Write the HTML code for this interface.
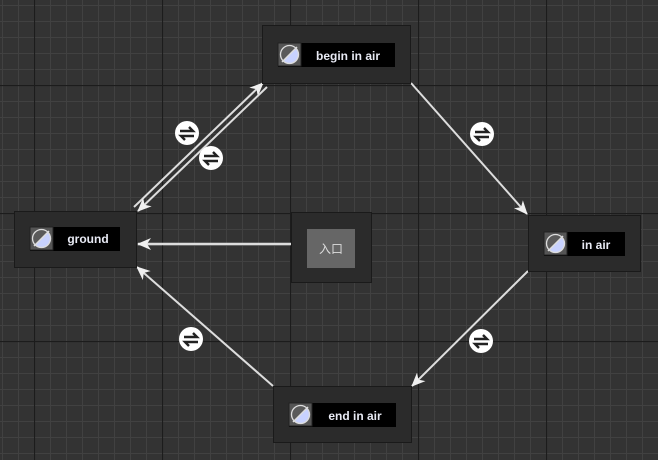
<!DOCTYPE html>
<html><head><meta charset="utf-8">
<style>
html,body{margin:0;padding:0;background:#333;}
svg{display:block}
text{font-family:"Liberation Sans","Noto Sans CJK SC",sans-serif;}
</style></head>
<body>
<svg width="658" height="460" viewBox="0 0 658 460" xmlns="http://www.w3.org/2000/svg">
<defs>
<pattern id="minor" x="2" y="5" width="16" height="16" patternUnits="userSpaceOnUse">
<path d="M0.5 0V16M0 0.5H16" stroke="#414141" stroke-width="1" fill="none"/>
</pattern>
<pattern id="major" x="34" y="85" width="128" height="128" patternUnits="userSpaceOnUse">
<path d="M0.5 0V128M0 0.5H128" stroke="#1c1c1c" stroke-width="1.2" fill="none"/>
</pattern>
<marker id="ar" markerWidth="14" markerHeight="12" refX="13" refY="6" orient="auto" markerUnits="userSpaceOnUse">
<path d="M0 0L14 6L0 12L4 6Z" fill="#f0f0f0"/>
</marker>
<g id="icon">
<rect x="0" y="0" width="23" height="23" fill="#555" stroke="#222"/>
<circle cx="11.5" cy="11.5" r="9" fill="#c8d2ff"/>
<path d="M2.5 11.5A9 9 0 0 1 17.9 5.1L5.1 17.9A9 9 0 0 1 2.5 11.5Z" fill="#5a5a5a"/>
<circle cx="11.5" cy="11.5" r="9" fill="none" stroke="#ddd" stroke-width="1.3"/>
<line x1="4" y1="19" x2="19" y2="4" stroke="#ddd" stroke-width="1.5"/>
</g>
<g id="badge">
<circle r="12" fill="#fff"/>
<path d="M-7 -2H6L2 -6" stroke="#222" stroke-width="2.4" fill="none"/>
<path d="M7 3H-6L-2 7" stroke="#222" stroke-width="2.4" fill="none"/>
</g>
</defs>
<rect width="658" height="460" fill="#333"/>
<rect width="658" height="460" fill="url(#minor)"/>
<rect width="658" height="460" fill="url(#major)"/>

<!-- connectors -->
<g stroke="#ddd" stroke-width="2" fill="none">
<line x1="134" y1="207" x2="263" y2="83" marker-end="url(#ar)"/>
<line x1="267" y1="87" x2="138" y2="211" marker-end="url(#ar)"/>
<line x1="411" y1="83" x2="527" y2="214" marker-end="url(#ar)"/>
<line x1="528" y1="271" x2="412" y2="386" marker-end="url(#ar)"/>
<line x1="273" y1="386" x2="137" y2="267" marker-end="url(#ar)"/>
<line x1="291" y1="244" x2="138" y2="244" marker-end="url(#ar)" stroke-width="2.5"/>
</g>
<use href="#badge" x="187" y="133"/>
<use href="#badge" x="211" y="158"/>
<use href="#badge" x="482" y="134"/>
<use href="#badge" x="481" y="341"/>
<use href="#badge" x="191" y="339"/>

<!-- nodes -->
<g stroke="#1a1a1a" stroke-width="1" fill="#2b2b2b">
<rect x="262.5" y="25.5" width="148" height="58"/>
<rect x="14.5" y="211.5" width="122" height="56"/>
<rect x="528.5" y="215.5" width="112" height="56"/>
<rect x="273.5" y="386.5" width="138" height="56"/>
<rect x="291.5" y="212.5" width="80" height="70"/>
</g>
<rect x="307" y="229" width="48" height="39" fill="#666"/>
<text x="331" y="253" font-size="12" fill="#ddd" text-anchor="middle">入口</text>

<rect x="278" y="43" width="117" height="24" fill="#000"/>
<use href="#icon" x="278" y="43"/>
<text x="348" y="60" font-size="12" font-weight="bold" fill="#e8eaf4" text-anchor="middle">begin in air</text>

<rect x="30" y="227" width="90" height="24" fill="#000"/>
<use href="#icon" x="30" y="227"/>
<text x="88" y="243" font-size="12" font-weight="bold" fill="#e8eaf4" text-anchor="middle">ground</text>

<rect x="544" y="232" width="81" height="24" fill="#000"/>
<use href="#icon" x="544" y="232"/>
<text x="596" y="249" font-size="12" font-weight="bold" fill="#e8eaf4" text-anchor="middle">in air</text>

<rect x="289" y="403" width="107" height="24" fill="#000"/>
<use href="#icon" x="289" y="403"/>
<text x="355" y="420" font-size="12" font-weight="bold" fill="#e8eaf4" text-anchor="middle">end in air</text>
</svg>
</body></html>
